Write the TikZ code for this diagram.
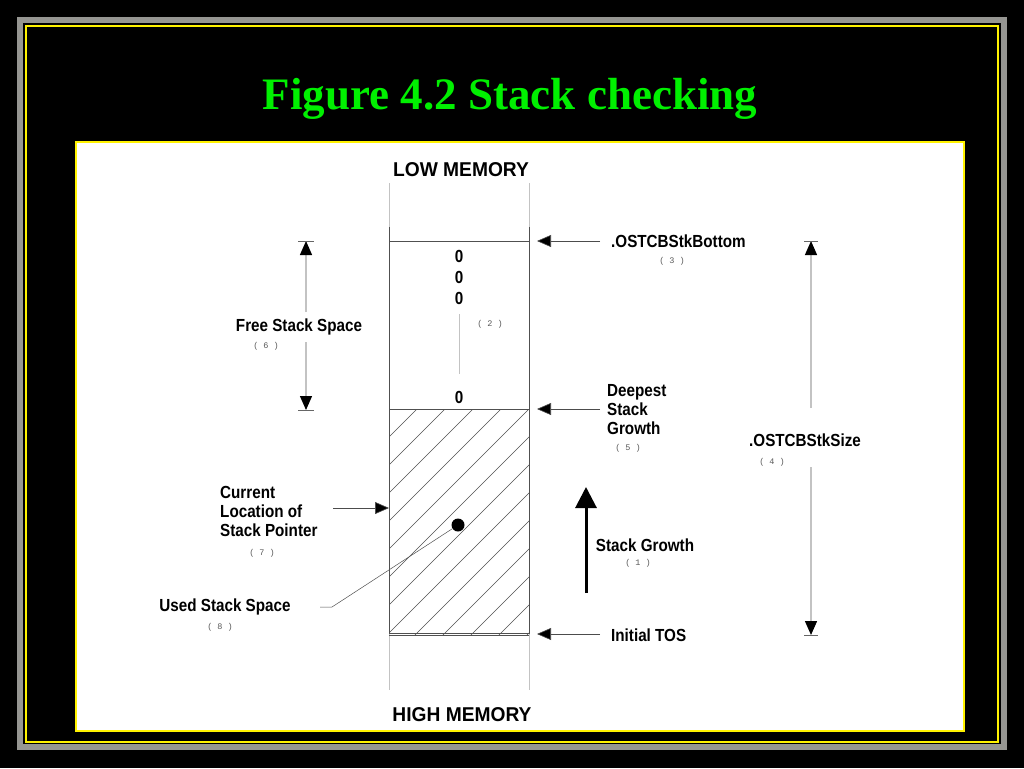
\documentclass[tikz,border=0pt]{standalone}
\usepackage{fontspec}
\setmainfont{Liberation Serif}
\newfontfamily\lblfont[FakeStretch=0.87]{Liberation Sans}
\newfontfamily\memfont[FakeStretch=0.96]{Liberation Sans}
\newfontfamily\numfont{Liberation Mono}
\usepackage{xcolor}
\usepackage{tikz}
\usetikzlibrary{arrows.meta,calc}

\definecolor{titlegreen}{RGB}{0,240,0}
\definecolor{framegray}{RGB}{150,150,146}
\definecolor{lightline}{RGB}{195,195,195}
\definecolor{darkline}{RGB}{80,80,80}

\tikzset{
  title/.style={font=\bfseries\fontsize{45}{50}\selectfont, text=titlegreen, inner sep=0pt},
  lbl/.style={font=\lblfont\bfseries\fontsize{17.5}{19}\selectfont, inner sep=0pt},
  memlbl/.style={font=\memfont\bfseries\fontsize{20}{22}\selectfont, inner sep=0pt},
  num/.style={font=\numfont\fontsize{8.5}{9}\selectfont, text=black!65, inner sep=0pt},
  ptr/.style={line width=0.6pt, black!70, -{Triangle[length=14pt,width=12pt,fill=black]}},
  dim/.style={lightline, line width=1.3pt, -{Triangle[length=14pt,width=12pt,fill=black,color=black]}},
  tick/.style={black!60, line width=0.6pt},
  hatch/.style={darkline, line width=0.5pt},
}

\begin{document}
\begin{tikzpicture}[x=1pt,y=-1pt]
% slide background and frame
\fill[black] (0,0) rectangle (1024,768);
\useasboundingbox (0,0) rectangle (1024,768);
\draw[framegray, line width=6pt] (20,20) rectangle (1004,747);
\draw[yellow, line width=1.2pt] (26,26) rectangle (998,742);
\draw[yellow, line width=1.2pt, fill=white] (76,142) rectangle (964,731);
\node[title] (title) at (510,99) {Figure 4.2 Stack checking};

% memory column
\node[memlbl] (low) at (461,170) {LOW MEMORY};
\node[memlbl] (high) at (462,715) {HIGH MEMORY};
\draw[lightline, line width=0.8pt] (389,183) -- (389,690) (529,183) -- (529,690);
\draw[darkline, line width=0.8pt] (389,227) -- (389,634) (529,227) -- (529,634);
\draw[darkline, line width=0.6pt] (389,241) -- (529,241);
\coordinate (sbot) at (529,241);
\coordinate (deep) at (529,409);
\coordinate (tos) at (529,634);
\coordinate (spl) at (389,508);

% used part of the stack
\begin{scope}
  \clip (389,409) rectangle (529,634);
  \foreach \k in {-10,...,12}
    \draw[hatch] (417+28*\k,409) -- ++(-300,300);
\end{scope}
\draw[darkline, line width=0.8pt] (389,409) rectangle (529,633);
\draw[darkline, line width=0.6pt] (389,635.5) -- (529,635.5);

% zeros in the free part
\node[lbl] (z1) at (459,256) {0};
\node[lbl] (z2) at (459,277) {0};
\node[lbl] (z3) at (459,298) {0};
\node[lbl] (z4) at (459,397) {0};
\draw[lightline, line width=0.8pt, shorten <=10pt, shorten >=17pt] (z3) -- (z4);
\node[num] (n2) at (490,324) {( 2 )};

% right side labels
\node[lbl, anchor=west] (bottom) at (611,241) {.OSTCBStkBottom};
\node[num] (n3) at (672,261) {( 3 )};
\draw[ptr] ([xshift=-11pt]bottom.west) -- ([xshift=8pt]sbot);

\node[lbl, anchor=west, align=left] (deepest) at (607,410) {Deepest\\Stack\\Growth};
\node[num] (n5) at (628,448) {( 5 )};
\draw[ptr] (600,409) -- ([xshift=8pt]deep);

\node[lbl, anchor=west] (initial) at (611,635) {Initial TOS};
\draw[ptr] ([xshift=-11pt]initial.west |- tos) -- ([xshift=8pt]tos);

\node[lbl] (growth) at (645,545) {Stack Growth};
\node[num] (n1) at (638,563) {( 1 )};
\coordinate (gfoot) at (586,593);
\coordinate (gtip) at (586,487);
\draw[line width=3pt, -{Triangle[length=21pt,width=21pt]}] (gfoot) -- (gtip);

% stack size
\node[lbl] (size) at (805,440) {.OSTCBStkSize};
\node[num] (n4) at (772,462) {( 4 )};
\coordinate (sztop) at (811,241);
\coordinate (szbot) at (811,635);
\draw[dim] (811,408) -- (sztop);
\draw[dim] (811,467) -- (szbot);
\draw[tick] (804,241) -- (818,241) (804,635) -- (818,635);

% free stack space
\node[lbl] (free) at (299,327) {Free Stack Space};
\node[num] (n6) at (266,346) {( 6 )};
\coordinate (frtop) at (306,241);
\coordinate (frbot) at (306,410);
\draw[dim] (306,312) -- (frtop);
\draw[dim] (306,342) -- (frbot);
\draw[tick] (298,241) -- (314,241) (298,410) -- (314,410);

% stack pointer
\node[lbl, anchor=west, align=left] (cur) at (220,511) {Current\\Location of\\Stack Pointer};
\node[num] (n7) at (262,553) {( 7 )};
\draw[ptr] (333,508) -- (spl);
\node[circle, fill=black, inner sep=0pt, minimum size=13pt] (sp) at (458,525) {};

\node[lbl] (used) at (225,607) {Used Stack Space};
\node[num] (n8) at (220,627) {( 8 )};
\draw[darkline, line width=0.5pt] (320,607) -- (332,607) -- (sp);
\end{tikzpicture}
\end{document}
